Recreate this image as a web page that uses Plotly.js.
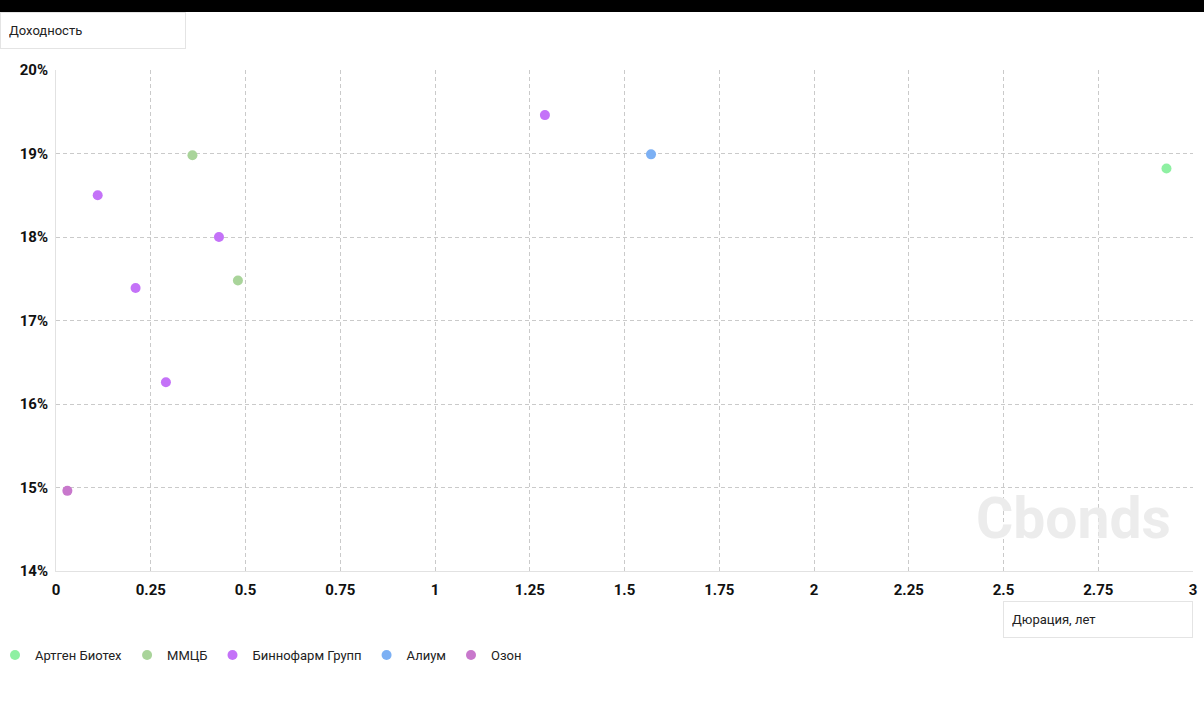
<!DOCTYPE html>
<html>
<head>
<meta charset="utf-8">
<script src="https://cdn.plot.ly/plotly-3.0.1.min.js"></script>
<style>
    body { margin: 0; background: #fff; }
    #topbar { position: absolute; left: 0; top: 0; width: 1204px; height: 12px; background: #000; z-index: 2; }
    #chart { position: absolute; left: 0; top: 0; width: 1204px; height: 718px; }
</style>
</head>
<body>
<div id="topbar"></div>
<div id="chart"></div>
<script>
// issuers and their bonds: duration (years) / yield (%)
const seriesNames = ["Артген Биотех", "ММЦБ", "Биннофарм Групп", "Алиум", "Озон"]
const seriesColors = ["#8ef0a2", "#a9d49a", "#c472f8", "#7cb0f4", "#c878cc"]

const artgenX = [2.93]
const artgenY = [18.82]
const mmcbX = [0.36, 0.48]
const mmcbY = [18.98, 17.48]
const binnopharmX = [0.11, 0.43, 0.21, 0.29, 1.29]
const binnopharmY = [18.5, 18.0, 17.39, 16.26, 19.46]
const aliumX = [1.57]
const aliumY = [18.99]
const ozonX = [0.03]
const ozonY = [14.96]

const xTicks = [0, 0.25, 0.5, 0.75, 1, 1.25, 1.5, 1.75, 2, 2.25, 2.5, 2.75, 3]
const yTicks = [14, 15, 16, 17, 18, 19, 20]

const xs = [artgenX, mmcbX, binnopharmX, aliumX, ozonX]
const ys = [artgenY, mmcbY, binnopharmY, aliumY, ozonY]

const data = seriesNames.map((name, i) => ({
    type: "scatter",
    mode: "markers",
    name: name,
    x: xs[i],
    y: ys[i],
    marker: { color: seriesColors[i], size: 10 }
}))

// plot area in pixels
const L = 56, R = 11, T = 70, B = 147
const W = 1204 - L - R, H = 718 - T - B
const px = v => (v - L) / W
const py = v => (718 - B - v) / H

const boxStyle = {
    xref: "paper", yref: "paper",
    showarrow: false,
    align: "left",
    valign: "middle",
    bgcolor: "#fff",
    bordercolor: "#e4e4e4",
    borderwidth: 1,
    borderpad: 8,
    font: { size: 13, color: "#222" }
}

const axisStyle = {
    tickfont: { size: 15, color: "#111", weight: "bold" },
    showgrid: true,
    gridcolor: "#cacaca",
    griddash: "4px,3px",
    gridwidth: 1,
    zeroline: false,
    showline: true,
    linecolor: "#e2e2e2",
    ticks: "",
    ticklabelstandoff: 5,
    automargin: false
}

const layout = {
    width: 1204,
    height: 718,
    margin: { l: L, r: R, t: T, b: B, autoexpand: false },
    paper_bgcolor: "#fff",
    plot_bgcolor: "#fff",
    font: { family: "Roboto, sans-serif", color: "#111" },
    showlegend: true,
    legend: {
        orientation: "h",
        x: px(-5), xanchor: "left",
        y: py(655), yanchor: "middle",
        font: { size: 13, color: "#222" },
        itemwidth: 30,
        tracegroupgap: 0
    },
    xaxis: Object.assign({}, axisStyle, {
        range: [0, 3],
        tickvals: xTicks,
        ticktext: xTicks.map(String)
    }),
    yaxis: Object.assign({}, axisStyle, {
        range: [14, 20],
        tickvals: yTicks,
        ticktext: yTicks.map(v => v + "%"),
        ticklabelstandoff: 4
    }),
    annotations: [
        Object.assign({}, boxStyle, {
            text: "Доходность",
            x: px(0), xanchor: "left",
            y: py(12), yanchor: "top",
            width: 168, height: 19
        }),
        Object.assign({}, boxStyle, {
            text: "Дюрация, лет",
            x: px(1003), xanchor: "left",
            y: py(601), yanchor: "top",
            width: 172, height: 19
        }),
        {
            xref: "paper", yref: "paper",
            text: "<b>Cbonds</b>",
            showarrow: false,
            x: px(1073), xanchor: "center",
            y: py(518), yanchor: "middle",
            font: { size: 57, color: "#ececec", family: "Roboto, sans-serif" }
        }
    ]
}

const config = { displayModeBar: false, staticPlot: true }

Plotly.newPlot("chart", data, layout, config)
</script>
</body>
</html>
